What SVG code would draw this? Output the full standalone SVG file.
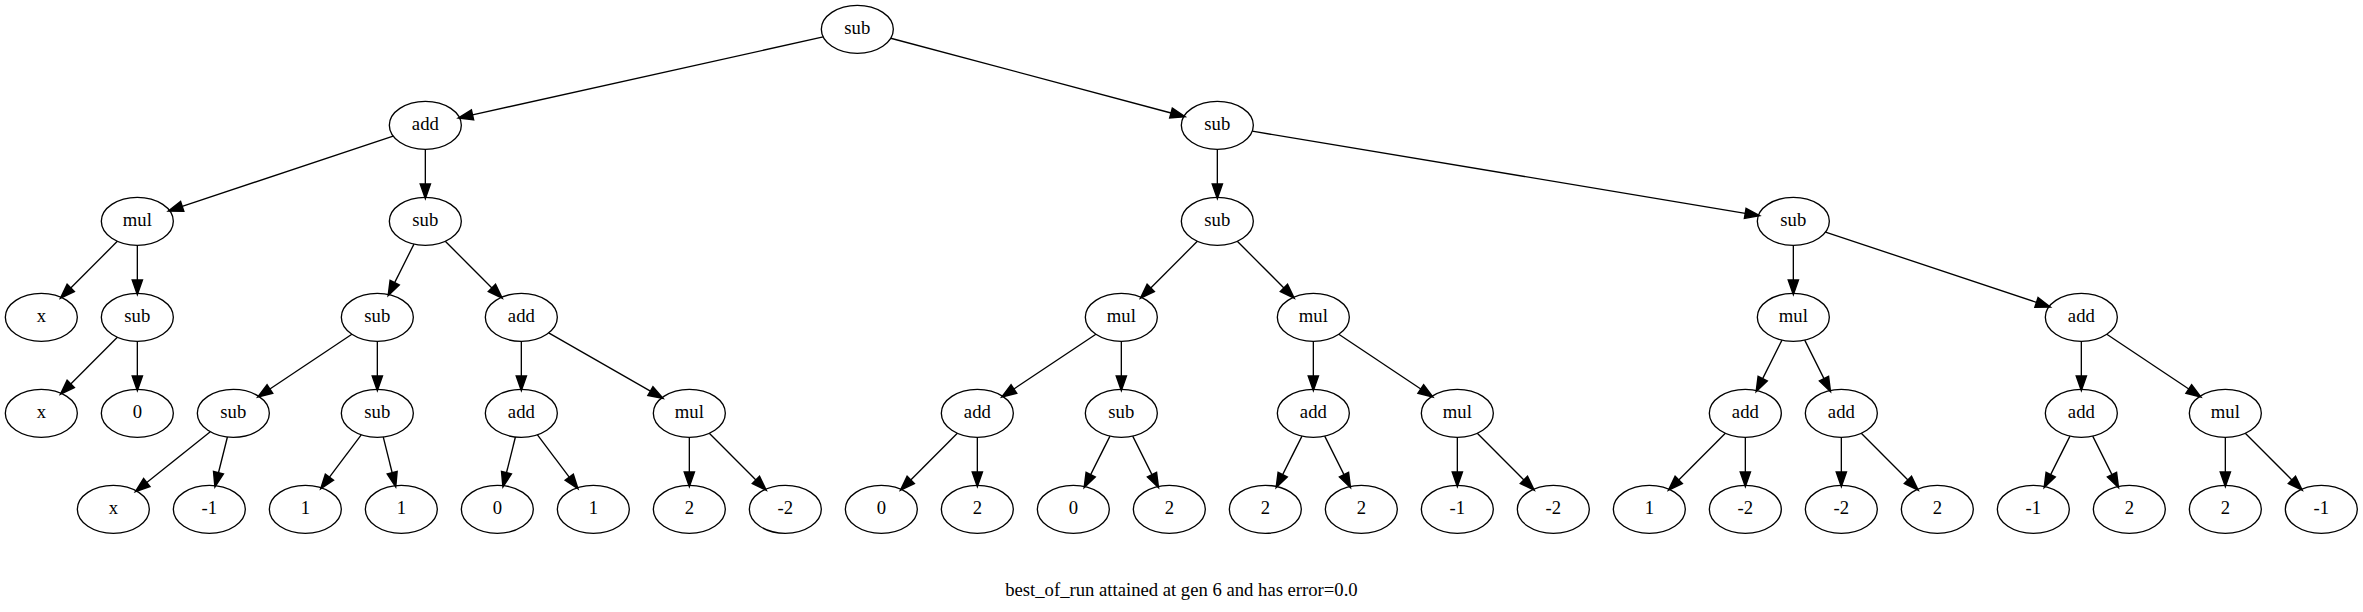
<svg xmlns="http://www.w3.org/2000/svg" width="2363" height="612" viewBox="0 0 2363 612">
<style>
.n ellipse{fill:none;stroke:#000;stroke-width:1}
.n text,.lbl{font-family:"Liberation Serif","Times New Roman",serif;font-size:14px;fill:#000;text-anchor:middle}
#edges line{stroke:#000;stroke-width:1;marker-end:url(#ah)}
</style>
<defs>
<marker id="ah" markerUnits="userSpaceOnUse" markerWidth="12" markerHeight="10" refX="0" refY="0" viewBox="0 -4.5 11 9" orient="auto" overflow="visible">
<path d="M0,-3.5 L10,0 L0,3.5 Z" fill="#000" stroke="#000" stroke-width="1"/>
</marker>
</defs>
<rect width="2363" height="612" fill="#fff"/>
<g transform="scale(1.333333)">
<g id="edges">
<line x1="617.39" y1="27.69" x2="354.38" y2="86.14"/>
<line x1="668.07" y1="28.69" x2="878.27" y2="84.74"/>
<line x1="294.85" y1="102.05" x2="136.64" y2="154.79"/>
<line x1="319" y1="112" x2="319" y2="138"/>
<line x1="88.02" y1="180.98" x2="53.05" y2="215.95"/>
<line x1="103" y1="184" x2="103" y2="210"/>
<line x1="88.02" y1="252.98" x2="53.05" y2="287.95"/>
<line x1="103" y1="256" x2="103" y2="282"/>
<line x1="310.46" y1="183.08" x2="296.01" y2="211.98"/>
<line x1="333.98" y1="180.98" x2="368.95" y2="215.95"/>
<line x1="263.91" y1="250.73" x2="202.41" y2="291.73"/>
<line x1="283" y1="256" x2="283" y2="282"/>
<line x1="157.72" y1="323.83" x2="110.09" y2="361.93"/>
<line x1="170.56" y1="327.76" x2="163.86" y2="354.54"/>
<line x1="270.93" y1="326.10" x2="247.08" y2="357.90"/>
<line x1="287.44" y1="327.76" x2="294.14" y2="354.54"/>
<line x1="391" y1="256" x2="391" y2="282"/>
<line x1="411.50" y1="249.71" x2="487.82" y2="293.33"/>
<line x1="386.56" y1="327.76" x2="379.86" y2="354.54"/>
<line x1="403.08" y1="326.10" x2="426.93" y2="357.90"/>
<line x1="517" y1="328" x2="517" y2="354"/>
<line x1="531.98" y1="324.98" x2="566.95" y2="359.95"/>
<line x1="913" y1="112" x2="913" y2="138"/>
<line x1="939.19" y1="98.37" x2="1308.94" y2="159.99"/>
<line x1="898.02" y1="180.98" x2="863.05" y2="215.95"/>
<line x1="927.98" y1="180.98" x2="962.95" y2="215.95"/>
<line x1="821.91" y1="250.73" x2="760.41" y2="291.73"/>
<line x1="841" y1="256" x2="841" y2="282"/>
<line x1="718.02" y1="324.98" x2="683.05" y2="359.95"/>
<line x1="733" y1="328" x2="733" y2="354"/>
<line x1="832.46" y1="327.08" x2="818.01" y2="355.98"/>
<line x1="849.54" y1="327.08" x2="863.99" y2="355.98"/>
<line x1="985" y1="256" x2="985" y2="282"/>
<line x1="1004.09" y1="250.73" x2="1065.59" y2="291.73"/>
<line x1="976.46" y1="327.08" x2="962.01" y2="355.98"/>
<line x1="993.54" y1="327.08" x2="1007.99" y2="355.98"/>
<line x1="1093" y1="328" x2="1093" y2="354"/>
<line x1="1107.98" y1="324.98" x2="1142.95" y2="359.95"/>
<line x1="1345" y1="184" x2="1345" y2="210"/>
<line x1="1369.15" y1="174.05" x2="1527.36" y2="226.79"/>
<line x1="1336.46" y1="255.08" x2="1322.01" y2="283.98"/>
<line x1="1353.54" y1="255.08" x2="1367.99" y2="283.98"/>
<line x1="1294.02" y1="324.98" x2="1259.05" y2="359.95"/>
<line x1="1309" y1="328" x2="1309" y2="354"/>
<line x1="1381" y1="328" x2="1381" y2="354"/>
<line x1="1395.98" y1="324.98" x2="1430.95" y2="359.95"/>
<line x1="1561" y1="256" x2="1561" y2="282"/>
<line x1="1580.09" y1="250.73" x2="1641.59" y2="291.73"/>
<line x1="1552.46" y1="327.08" x2="1538.01" y2="355.98"/>
<line x1="1569.54" y1="327.08" x2="1583.99" y2="355.98"/>
<line x1="1669" y1="328" x2="1669" y2="354"/>
<line x1="1683.98" y1="324.98" x2="1718.95" y2="359.95"/>
</g>
<g id="n0" class="n"><ellipse cx="643" cy="22" rx="27" ry="18"/><text x="643" y="25.8">sub</text></g>
<g id="n1" class="n"><ellipse cx="319" cy="94" rx="27" ry="18"/><text x="319" y="97.8">add</text></g>
<g id="n2" class="n"><ellipse cx="913" cy="94" rx="27" ry="18"/><text x="913" y="97.8">sub</text></g>
<g id="n3" class="n"><ellipse cx="103" cy="166" rx="27" ry="18"/><text x="103" y="169.8">mul</text></g>
<g id="n4" class="n"><ellipse cx="319" cy="166" rx="27" ry="18"/><text x="319" y="169.8">sub</text></g>
<g id="n5" class="n"><ellipse cx="913" cy="166" rx="27" ry="18"/><text x="913" y="169.8">sub</text></g>
<g id="n6" class="n"><ellipse cx="1345" cy="166" rx="27" ry="18"/><text x="1345" y="169.8">sub</text></g>
<g id="n7" class="n"><ellipse cx="31" cy="238" rx="27" ry="18"/><text x="31" y="241.8">x</text></g>
<g id="n8" class="n"><ellipse cx="103" cy="238" rx="27" ry="18"/><text x="103" y="241.8">sub</text></g>
<g id="n9" class="n"><ellipse cx="283" cy="238" rx="27" ry="18"/><text x="283" y="241.8">sub</text></g>
<g id="n10" class="n"><ellipse cx="391" cy="238" rx="27" ry="18"/><text x="391" y="241.8">add</text></g>
<g id="n11" class="n"><ellipse cx="841" cy="238" rx="27" ry="18"/><text x="841" y="241.8">mul</text></g>
<g id="n12" class="n"><ellipse cx="985" cy="238" rx="27" ry="18"/><text x="985" y="241.8">mul</text></g>
<g id="n13" class="n"><ellipse cx="1345" cy="238" rx="27" ry="18"/><text x="1345" y="241.8">mul</text></g>
<g id="n14" class="n"><ellipse cx="1561" cy="238" rx="27" ry="18"/><text x="1561" y="241.8">add</text></g>
<g id="n15" class="n"><ellipse cx="31" cy="310" rx="27" ry="18"/><text x="31" y="313.8">x</text></g>
<g id="n16" class="n"><ellipse cx="103" cy="310" rx="27" ry="18"/><text x="103" y="313.8">0</text></g>
<g id="n17" class="n"><ellipse cx="175" cy="310" rx="27" ry="18"/><text x="175" y="313.8">sub</text></g>
<g id="n18" class="n"><ellipse cx="283" cy="310" rx="27" ry="18"/><text x="283" y="313.8">sub</text></g>
<g id="n19" class="n"><ellipse cx="391" cy="310" rx="27" ry="18"/><text x="391" y="313.8">add</text></g>
<g id="n20" class="n"><ellipse cx="517" cy="310" rx="27" ry="18"/><text x="517" y="313.8">mul</text></g>
<g id="n21" class="n"><ellipse cx="733" cy="310" rx="27" ry="18"/><text x="733" y="313.8">add</text></g>
<g id="n22" class="n"><ellipse cx="841" cy="310" rx="27" ry="18"/><text x="841" y="313.8">sub</text></g>
<g id="n23" class="n"><ellipse cx="985" cy="310" rx="27" ry="18"/><text x="985" y="313.8">add</text></g>
<g id="n24" class="n"><ellipse cx="1093" cy="310" rx="27" ry="18"/><text x="1093" y="313.8">mul</text></g>
<g id="n25" class="n"><ellipse cx="1309" cy="310" rx="27" ry="18"/><text x="1309" y="313.8">add</text></g>
<g id="n26" class="n"><ellipse cx="1381" cy="310" rx="27" ry="18"/><text x="1381" y="313.8">add</text></g>
<g id="n27" class="n"><ellipse cx="1561" cy="310" rx="27" ry="18"/><text x="1561" y="313.8">add</text></g>
<g id="n28" class="n"><ellipse cx="1669" cy="310" rx="27" ry="18"/><text x="1669" y="313.8">mul</text></g>
<g id="n29" class="n"><ellipse cx="85" cy="382" rx="27" ry="18"/><text x="85" y="385.8">x</text></g>
<g id="n30" class="n"><ellipse cx="157" cy="382" rx="27" ry="18"/><text x="157" y="385.8">-1</text></g>
<g id="n31" class="n"><ellipse cx="229" cy="382" rx="27" ry="18"/><text x="229" y="385.8">1</text></g>
<g id="n32" class="n"><ellipse cx="301" cy="382" rx="27" ry="18"/><text x="301" y="385.8">1</text></g>
<g id="n33" class="n"><ellipse cx="373" cy="382" rx="27" ry="18"/><text x="373" y="385.8">0</text></g>
<g id="n34" class="n"><ellipse cx="445" cy="382" rx="27" ry="18"/><text x="445" y="385.8">1</text></g>
<g id="n35" class="n"><ellipse cx="517" cy="382" rx="27" ry="18"/><text x="517" y="385.8">2</text></g>
<g id="n36" class="n"><ellipse cx="589" cy="382" rx="27" ry="18"/><text x="589" y="385.8">-2</text></g>
<g id="n37" class="n"><ellipse cx="661" cy="382" rx="27" ry="18"/><text x="661" y="385.8">0</text></g>
<g id="n38" class="n"><ellipse cx="733" cy="382" rx="27" ry="18"/><text x="733" y="385.8">2</text></g>
<g id="n39" class="n"><ellipse cx="805" cy="382" rx="27" ry="18"/><text x="805" y="385.8">0</text></g>
<g id="n40" class="n"><ellipse cx="877" cy="382" rx="27" ry="18"/><text x="877" y="385.8">2</text></g>
<g id="n41" class="n"><ellipse cx="949" cy="382" rx="27" ry="18"/><text x="949" y="385.8">2</text></g>
<g id="n42" class="n"><ellipse cx="1021" cy="382" rx="27" ry="18"/><text x="1021" y="385.8">2</text></g>
<g id="n43" class="n"><ellipse cx="1093" cy="382" rx="27" ry="18"/><text x="1093" y="385.8">-1</text></g>
<g id="n44" class="n"><ellipse cx="1165" cy="382" rx="27" ry="18"/><text x="1165" y="385.8">-2</text></g>
<g id="n45" class="n"><ellipse cx="1237" cy="382" rx="27" ry="18"/><text x="1237" y="385.8">1</text></g>
<g id="n46" class="n"><ellipse cx="1309" cy="382" rx="27" ry="18"/><text x="1309" y="385.8">-2</text></g>
<g id="n47" class="n"><ellipse cx="1381" cy="382" rx="27" ry="18"/><text x="1381" y="385.8">-2</text></g>
<g id="n48" class="n"><ellipse cx="1453" cy="382" rx="27" ry="18"/><text x="1453" y="385.8">2</text></g>
<g id="n49" class="n"><ellipse cx="1525" cy="382" rx="27" ry="18"/><text x="1525" y="385.8">-1</text></g>
<g id="n50" class="n"><ellipse cx="1597" cy="382" rx="27" ry="18"/><text x="1597" y="385.8">2</text></g>
<g id="n51" class="n"><ellipse cx="1669" cy="382" rx="27" ry="18"/><text x="1669" y="385.8">2</text></g>
<g id="n52" class="n"><ellipse cx="1741" cy="382" rx="27" ry="18"/><text x="1741" y="385.8">-1</text></g>
<text class="lbl" x="886.1" y="447.2">best_of_run attained at gen 6 and has error=0.0</text>
</g>
</svg>
